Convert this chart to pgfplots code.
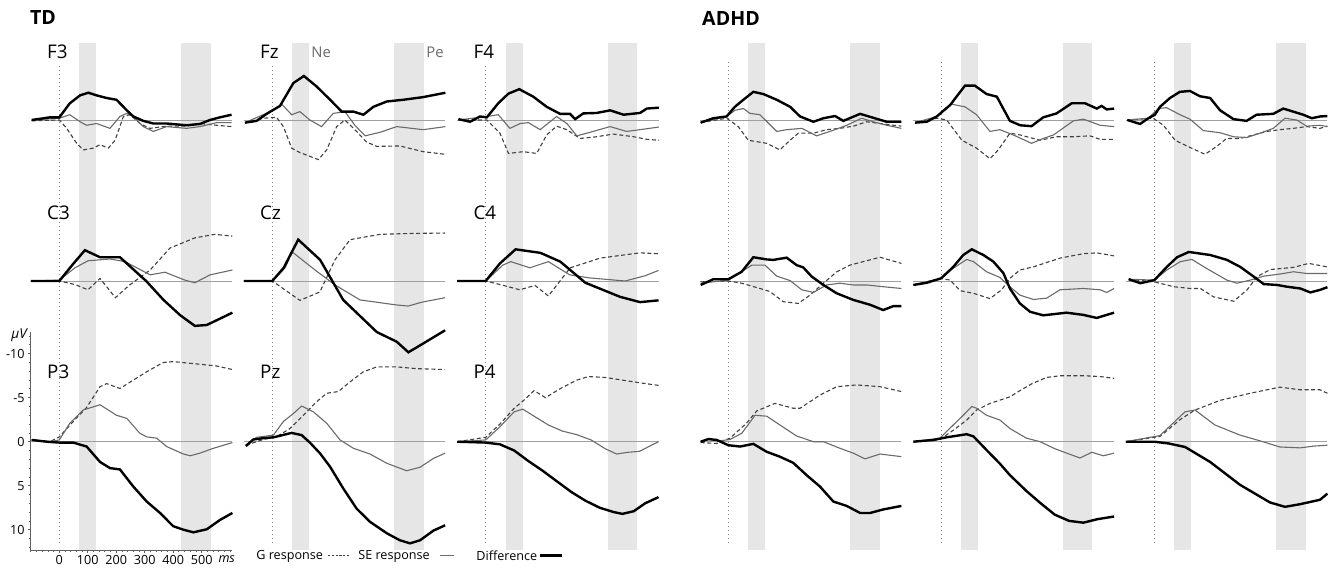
\documentclass[border=0pt]{standalone}
\usepackage{fontspec}
\setmainfont{Open Sans}
\usepackage{pgfplots}
\pgfplotsset{compat=1.18}
\definecolor{bandc}{HTML}{E6E6E6}
\definecolor{gcol}{HTML}{404040}
\definecolor{secol}{HTML}{6A6A6A}
\definecolor{zcol}{HTML}{A0A0A0}
\definecolor{dotc}{HTML}{808080}
\definecolor{axc}{HTML}{606060}
\tikzset{
  gresp/.style={color=gcol, line width=0.55pt, dash pattern=on 2pt off 1.3pt},
  seresp/.style={color=secol, line width=0.55pt},
  diffr/.style={color=black, line width=1.2pt},
  zeroline/.style={color=zcol, line width=0.45pt},
  dotline/.style={color=dotc, line width=0.5pt, dash pattern=on 0.5pt off 1.5pt},
}
\pgfplotsset{
  panel/.style={scale only axis, width=100.78pt, xmin=-100, xmax=608, ymin=-8.7,
    y dir=reverse, hide axis, clip=false, anchor=north west, no markers},
  row12/.style={ymax=8, height=73.48pt},
  row3/.style={ymax=12.3, height=92.4pt},
}
\newcommand\panel[4]{%
\begin{axis}[panel,#1]
\draw[zeroline] (axis cs:-100,0) -- (axis cs:608,0);
\addplot[gresp] coordinates {#2};
\addplot[seresp] coordinates {#3};
\addplot[diffr] coordinates {#4};
\end{axis}}
\newcommand\bands[2]{%
\begin{axis}[scale only axis, width=100.78pt, height=253.5pt, xmin=-100, xmax=608,
  ymin=43, ymax=550, y dir=reverse, hide axis, clip=false, anchor=north west, at={(#1,-21.5pt)}]
\fill[bandc] (axis cs:70,43) rectangle (axis cs:130,550);
\fill[bandc] (axis cs:428,43) rectangle (axis cs:532,550);
\draw[dotline] (axis cs:0,#2) -- (axis cs:0,546);
\end{axis}}
\newcommand\lblfont{\fontsize{9.4}{10}\selectfont}
\newcommand\smfont{\fontsize{6.3}{7}\selectfont}
\begin{document}
\begin{tikzpicture}
\useasboundingbox (0,0) rectangle (666.5pt,-285.5pt);
% background bands and dotted onset lines
\bands{15.42pt}{66}
\bands{121.92pt}{66}
\bands{228.62pt}{66}
\bands{349.92pt}{62}
\bands{456.27pt}{62}
\bands{562.92pt}{62}
% group titles
\node[font=\fontsize{9.8}{11}\selectfont\bfseries] at (21.5pt,-9pt) {TD};
\node[font=\fontsize{9.8}{11}\selectfont\bfseries] at (365.5pt,-9pt) {ADHD};
% electrode labels
\node[anchor=west,inner sep=0,font=\lblfont] at (23.4pt,-26pt) {F3};
\node[anchor=west,inner sep=0,font=\lblfont] at (129.9pt,-26pt) {Fz};
\node[anchor=west,inner sep=0,font=\lblfont] at (236.6pt,-26pt) {F4};
\node[anchor=west,inner sep=0,font=\lblfont] at (23.4pt,-106.5pt) {C3};
\node[anchor=west,inner sep=0,font=\lblfont] at (129.9pt,-106.5pt) {Cz};
\node[anchor=west,inner sep=0,font=\lblfont] at (236.6pt,-106.5pt) {C4};
\node[anchor=west,inner sep=0,font=\lblfont] at (23.4pt,-185.8pt) {P3};
\node[anchor=west,inner sep=0,font=\lblfont] at (129.9pt,-185.8pt) {Pz};
\node[anchor=west,inner sep=0,font=\lblfont] at (236.6pt,-185.8pt) {P4};
\node[anchor=west,inner sep=0,font=\fontsize{7.4}{8}\selectfont,text=secol] at (155.5pt,-26pt) {Ne};
\node[anchor=west,inner sep=0,font=\fontsize{7.4}{8}\selectfont,text=secol] at (213pt,-26pt) {Pe};
% P3 frame axis (scale)
\begin{axis}[scale only axis, width=100.78pt, height=109.12pt, anchor=north west, at={(15.42pt,-165.85pt)},
  xmin=-100, xmax=608, ymin=-12.3, ymax=12.5, clip=false,
  axis x line=bottom, axis y line=left, axis line style={-, draw=axc, line width=0.4pt},
  xtick={0,100,200,300,400,500}, xticklabels={0,100,200,300,400,500},
  minor xtick={-100,-80,...,600},
  ytick={-10,-5,0,5,10}, yticklabels={10,5,0,-5,-10},
  minor ytick={-12,-11,...,12},
  tick align=outside, major tick length=1.4pt, minor tick length=0.8pt,
  every tick/.style={draw=axc, line width=0.4pt},
  tick label style={font=\smfont, text=black},
  xticklabel style={inner sep=1pt},
  yticklabel style={inner sep=1.5pt}]
\node[anchor=east, inner sep=1.2pt, font=\fontsize{6.8}{7}\selectfont] at (axis cs:-100,12.1) {\textit{μV}};
\node[anchor=north, inner sep=1pt, yshift=-1.4pt, font=\smfont] at (axis cs:588,-12.3) {\textit{ms}};
\end{axis}
% ---------------- TD row 1 ----------------
\panel{at={(15.42pt,-21.72pt)},row12}
{(-97,0.1)(0,0)(26,0.95)(61,2.65)(84,3.4)(119,3.2)(143,2.8)(172,3.2)(196,2.3)(225,-0.4)(248,-0.6)(283,0.4)(318,0.95)(377,0.7)(447,0.7)(494,0.4)(553,0.6)(605,0.75)}
{(-97,0)(0,-0.2)(37,-0.6)(73,0.2)(96,0.6)(131,0.4)(178,0.95)(213,-0.4)(237,-0.75)(260,-0.4)(295,0.75)(330,1.3)(377,0.75)(447,0.95)(494,0.75)(553,0.3)(605,0.3)}
{(-97,0)(-33,-0.3)(0,-0.3)(37,-1.9)(73,-2.8)(102,-3.1)(131,-2.8)(166,-2.5)(201,-2.3)(237,-1.1)(260,-0.4)(295,0.1)(330,0.4)(377,0.4)(447,0.6)(494,0.45)(529,0)(564,-0.3)(605,-0.6)}
\panel{at={(121.92pt,-21.72pt)},row12}
{(-96,0.3)(-32,-0.2)(15,-0.3)(39,0.75)(68,3.2)(97,3.7)(162,4.5)(191,3.4)(226,0.75)(255,0)(290,1.1)(331,2.5)(367,3.0)(448,2.95)(530,3.6)(608,3.9)}
{(-96,0.3)(-32,-0.6)(4,-1.1)(33,-1.8)(68,-0.6)(97,-0.95)(132,0)(173,0.75)(214,-0.75)(255,-0.95)(290,0.6)(326,1.8)(378,1.4)(437,0.75)(530,1.1)(608,0.75)}
{(-96,0.3)(-55,0.1)(-20,-0.7)(27,-1.6)(74,-4.2)(111,-5.0)(156,-3.8)(203,-2.3)(244,-0.95)(285,-0.95)(320,-0.6)(355,-1.5)(402,-2.1)(460,-2.3)(530,-2.6)(608,-3.1)}
\panel{at={(228.62pt,-21.72pt)},row12}
{(-96,0)(4,0)(50,1.5)(80,3.8)(132,3.6)(179,3.8)(214,1.7)(249,0.7)(285,1.1)(331,2.1)(390,1.9)(448,1.6)(519,1.9)(566,2.2)(608,2.3)}
{(-96,0)(4,-0.4)(44,-0.6)(85,0.95)(121,0.4)(150,0.3)(191,1.1)(249,-0.4)(285,0.4)(320,1.8)(355,1.5)(437,0.75)(495,1.3)(542,1.1)(608,0.8)}
{(-96,-0.1)(-55,0.2)(-20,-0.4)(4,-0.3)(44,-1.9)(80,-3.0)(118,-3.5)(167,-2.65)(214,-1.5)(261,-0.7)(296,-0.7)(314,-0.1)(343,-0.75)(390,-0.8)(437,-1.1)(484,-0.6)(542,-0.8)(566,-1.3)(608,-1.4)}
% ---------------- TD row 2 ----------------
\panel{at={(15.42pt,-102.22pt)},row12}
{(-100,0)(0,0)(55,0.4)(101,1.0)(143,-0.3)(197,1.9)(245,0.5)(319,-1.25)(389,-3.75)(476,-4.9)(546,-5.3)(608,-5.1)}
{(-100,0)(0,-0.1)(55,-1.5)(101,-2.3)(178,-2.5)(231,-2.2)(319,-0.7)(371,-1.0)(441,-0.1)(476,0.2)(530,-0.7)(608,-1.25)}
{(-100,0)(0,0)(45,-1.8)(90,-3.5)(143,-2.7)(213,-2.7)(305,0)(366,2.15)(425,3.9)(476,5.1)(518,5.0)(608,3.6)}
\panel{at={(121.92pt,-102.22pt)},row12}
{(-100,0)(0,0)(44,1.0)(97,2.2)(167,1.25)(220,-2.4)(273,-4.7)(378,-5.3)(480,-5.4)(607,-5.45)}
{(-100,0)(0,0)(45,-1.5)(70,-3.3)(150,-1.25)(220,0.45)(308,2.15)(431,2.7)(477,2.85)(526,2.4)(607,1.9)}
{(-100,0)(0,0)(40,-1.5)(91,-4.7)(168,-2.4)(249,2.15)(367,5.8)(437,6.9)(478,8.1)(530,7.1)(607,5.6)}
\panel{at={(228.62pt,-102.22pt)},row12}
{(-100,0)(0,0)(50,0.4)(120,1.0)(173,0.5)(220,1.7)(297,-1.5)(402,-2.6)(542,-3.2)(607,-3.1)}
{(-100,0)(0,0)(60,-1.8)(88,-2.2)(155,-1.5)(220,-2.2)(295,-0.7)(365,-0.35)(490,0)(560,-0.6)(607,-1.2)}
{(-100,0)(0,0)(50,-2.0)(105,-3.6)(192,-3.2)(262,-2.2)(350,0.2)(472,1.8)(542,2.4)(607,2.2)}
% ---------------- TD row 3 ----------------
\panel{at={(15.42pt,-182.57pt)},row3}
{(-97,-0.2)(-33,0)(0,-0.55)(49,-2.3)(96,-3.9)(143,-6.25)(166,-6.6)(213,-6.05)(260,-7.0)(307,-7.95)(365,-9.0)(400,-9.1)(494,-8.8)(553,-8.6)(608,-8.2)}
{(-97,-0.2)(-33,0)(0,-0.2)(37,-2.1)(84,-3.6)(143,-4.2)(201,-3.0)(237,-2.65)(283,-0.95)(307,-0.55)(342,-0.4)(377,0.55)(436,1.4)(460,1.6)(494,1.3)(541,0.75)(608,0.1)}
{(-97,-0.2)(-44,0)(0,0.1)(49,0.1)(96,0.55)(143,2.3)(178,3.0)(213,3.15)(260,5.1)(307,6.8)(354,8.1)(400,9.6)(436,10.0)(471,10.3)(518,9.95)(564,8.9)(608,8.1)}
\panel{at={(121.92pt,-182.57pt)},row3}
{(-93,0.4)(-32,-0.25)(15,-0.55)(62,-1.5)(109,-3.0)(156,-4.55)(191,-5.5)(232,-5.7)(273,-6.8)(320,-7.95)(367,-8.5)(437,-8.5)(507,-8.3)(607,-8.2)}
{(-93,0.4)(-55,-0.5)(4,-0.75)(39,-2.3)(74,-3.2)(103,-4.05)(144,-3.4)(191,-2.1)(238,-0.2)(285,0.75)(343,1.4)(402,2.45)(472,3.3)(519,2.9)(566,1.9)(607,1.3)}
{(-93,0.5)(-67,-0.25)(-32,-0.4)(4,-0.5)(68,-1.0)(103,-0.75)(132,0.1)(167,1.3)(203,2.85)(249,5.3)(296,7.6)(343,9.1)(402,10.4)(448,11.2)(484,11.55)(519,11.2)(566,10.1)(607,9.5)}
\panel{at={(228.62pt,-182.57pt)},row3}
{(-100,0)(0,-0.5)(50,-2.0)(100,-3.8)(130,-4.6)(170,-5.8)(210,-5.0)(260,-6.0)(320,-7.0)(360,-7.4)(420,-7.3)(480,-7.0)(540,-6.7)(607,-6.4)}
{(-100,0)(0,-0.2)(50,-1.7)(100,-3.4)(130,-3.7)(170,-2.9)(220,-1.9)(270,-1.2)(320,-0.8)(370,-0.2)(420,0.8)(460,1.4)(500,1.2)(540,1.1)(570,0.6)(607,0)}
{(-100,0)(0,0.1)(50,0.3)(100,1.0)(150,2.2)(200,3.3)(250,4.5)(300,5.7)(350,6.7)(400,7.5)(450,8.0)(480,8.2)(520,7.9)(560,7.0)(607,6.3)}
% ---------------- ADHD row 1 ----------------
\panel{at={(349.92pt,-21.72pt)},row12}
{(-97,0.3)(-6,-0.2)(35,0.75)(70,2.3)(135,2.65)(181,3.4)(217,2.3)(246,1.5)(299,1.5)(345,1.1)(392,0.95)(439,0.7)(486,0.2)(533,0.4)(580,0.6)(608,0.7)}
{(-97,0.3)(-6,-0.4)(23,-1.1)(53,-1.3)(76,-0.75)(111,-0.6)(170,1.3)(205,1.1)(258,0.95)(310,1.8)(357,1.3)(416,0.6)(468,-0.2)(509,0.2)(556,0.6)(608,0.95)}
{(-97,0.3)(-53,-0.2)(-6,-0.4)(23,-1.5)(53,-2.3)(88,-3.2)(123,-2.95)(170,-2.3)(217,-1.5)(252,-0.4)(299,0.2)(334,-0.2)(375,-0.45)(404,0.1)(463,-0.7)(504,-0.3)(556,0.2)(608,0.2)}
\panel{at={(456.27pt,-21.72pt)},row12}
{(-91,0.3)(-15,-0.2)(20,0)(73,2.3)(125,3.2)(172,4.4)(201,3.4)(242,1.5)(278,1.7)(348,2.3)(406,1.9)(465,1.9)(523,1.8)(559,2.2)(608,2.2)}
{(-91,0.3)(-15,-0.4)(37,-1.8)(84,-1.5)(125,-0.6)(172,1.3)(207,1.1)(254,1.7)(318,2.65)(359,2.1)(395,1.7)(465,0.1)(500,-0.1)(559,0.6)(608,0.75)}
{(-91,0.3)(-50,0.2)(-15,-0.4)(32,-1.7)(84,-3.9)(119,-3.9)(160,-2.95)(196,-2.65)(242,0.1)(278,0.6)(318,0.7)(359,-0.3)(406,-0.75)(459,-1.9)(506,-1.9)(547,-1.3)(564,-1.6)(582,-1.2)(608,-1.3)}
\panel{at={(562.92pt,-21.72pt)},row12}
{(-95,0)(-4,-0.2)(32,0.6)(73,2.3)(114,2.95)(178,3.9)(219,3.0)(254,2.1)(301,2.1)(348,1.7)(395,1.3)(441,1.1)(488,0.95)(535,0.75)(582,0.95)(608,0.7)}
{(-95,0)(-21,-0.2)(14,-1.3)(43,-1.4)(90,-0.6)(125,-0.1)(172,1.2)(231,1.45)(278,1.9)(324,2.0)(371,1.5)(418,0.95)(459,-0.2)(500,0)(535,0.7)(582,0.6)(608,0.75)}
{(-95,0)(-50,0.45)(-21,-0.2)(2,-0.6)(20,-1.5)(55,-2.5)(90,-3.2)(125,-3.3)(160,-2.7)(196,-2.5)(231,-1.1)(278,-0.1)(324,0.1)(359,-0.6)(418,-0.7)(453,-1.3)(488,-0.95)(523,-0.6)(553,-0.2)(582,-0.4)(608,-0.45)}
% ---------------- ADHD row 2 ----------------
\panel{at={(349.92pt,-102.22pt)},row12}
{(-97,0.1)(0,0)(47,0.25)(111,0.85)(146,1.2)(193,2.35)(246,2.55)(287,1.6)(334,0.25)(381,-1.05)(427,-1.8)(486,-2.3)(533,-2.7)(608,-2.0)}
{(-97,0.25)(0,-0.1)(47,-1.05)(82,-1.8)(129,-1.8)(170,-0.55)(217,-0.05)(258,1.0)(299,1.3)(345,0.45)(392,0.25)(439,0.45)(486,0.45)(544,0.65)(608,0.85)}
{(-97,0.45)(-53,-0.2)(0,-0.2)(47,-1.05)(88,-2.7)(135,-2.45)(158,-2.4)(205,-2.65)(240,-1.8)(263,-1.55)(293,-0.5)(334,0.45)(381,1.4)(439,2.15)(498,2.7)(544,3.3)(580,2.85)(608,2.85)}
\panel{at={(456.27pt,-102.22pt)},row12}
{(-97,0.45)(0,-0.3)(32,-0.1)(67,1.1)(114,1.4)(172,2.0)(213,1.0)(242,-0.3)(277,-1.25)(324,-1.6)(418,-2.6)(500,-3.1)(547,-3.2)(608,-2.85)}
{(-97,0.45)(0,-0.3)(43,-1.45)(90,-2.45)(114,-2.2)(160,-1.05)(207,-0.4)(242,0.65)(277,1.6)(324,2.1)(371,1.95)(418,1.0)(500,0.85)(559,1.0)(582,1.3)(608,0.85)}
{(-97,0.45)(-50,0.2)(0,-0.3)(43,-1.6)(78,-2.95)(108,-3.6)(149,-2.95)(184,-2.2)(219,-0.9)(242,0.85)(277,2.55)(313,3.5)(359,3.9)(441,3.6)(500,3.85)(547,4.2)(582,3.85)(608,3.6)}
\panel{at={(562.92pt,-102.22pt)},row12}
{(-90,-0.2)(0,0.1)(68,0.65)(126,0.85)(162,0.85)(208,1.8)(279,2.3)(326,1.0)(361,-0.5)(407,-1.3)(489,-1.55)(542,-2.0)(608,-1.6)}
{(-90,-0.2)(0,-0.1)(44,-1.25)(91,-2.2)(132,-2.45)(185,-1.4)(255,-0.1)(290,0.25)(337,-0.1)(384,-0.55)(443,-0.8)(489,-1.05)(536,-0.85)(608,-0.85)}
{(-90,-0.2)(-49,0.25)(0,-0.1)(44,-1.6)(80,-2.7)(121,-3.3)(197,-2.95)(255,-2.4)(302,-1.6)(349,-0.5)(384,0.35)(431,0.45)(466,0.65)(513,0.85)(548,1.3)(583,1.0)(608,0.7)}
% ---------------- ADHD row 3 ----------------
\panel{at={(349.92pt,-182.57pt)},row3}
{(-97,0.1)(-41,0.2)(6,-0.4)(64,-2.1)(100,-3.5)(164,-4.35)(228,-3.8)(252,-3.8)(322,-5.3)(381,-6.25)(451,-6.45)(533,-6.25)(608,-5.7)}
{(-97,0)(-70,-0.25)(-29,-0.1)(6,-0.25)(47,-0.95)(94,-3.0)(135,-2.9)(181,-1.9)(240,-0.65)(299,0)(334,0)(392,0.75)(439,1.3)(480,1.95)(533,1.4)(608,1.7)}
{(-97,0)(-70,-0.3)(-41,-0.2)(0,0.4)(41,0.55)(88,0.25)(135,1.15)(181,1.7)(228,2.4)(275,3.8)(322,5.1)(369,6.8)(416,7.3)(463,8.1)(498,8.1)(544,7.7)(608,7.3)}
\panel{at={(456.27pt,-182.57pt)},row3}
{(-97,0)(-4,-0.25)(43,-1.3)(90,-2.45)(125,-3.6)(172,-4.35)(242,-5.1)(277,-5.8)(320,-6.6)(370,-7.3)(420,-7.5)(500,-7.5)(560,-7.4)(608,-7.2)}
{(-97,0)(-4,-0.4)(43,-1.9)(78,-3.0)(108,-4.0)(125,-3.8)(160,-3.0)(207,-2.46)(242,-1.5)(300,-0.4)(348,0)(400,0.8)(450,1.4)(488,1.85)(530,1.2)(570,1.6)(608,1.3)}
{(-97,0)(-27,-0.2)(20,-0.5)(90,-0.85)(114,-0.6)(160,0.95)(207,2.5)(242,3.8)(300,5.6)(350,7.0)(400,8.3)(450,9.0)(500,9.2)(550,8.8)(608,8.5)}
\panel{at={(562.92pt,-182.57pt)},row3}
{(-100,0)(20,-0.6)(90,-2.5)(143,-3.6)(231,-4.7)(336,-5.5)(441,-6.2)(512,-5.9)(582,-5.9)(608,-5.5)}
{(-100,0)(20,-0.7)(108,-3.4)(143,-3.6)(213,-1.9)(301,-0.75)(371,-0.1)(441,0.6)(512,0.7)(560,0.5)(608,0.4)}
{(-100,0)(0,0)(50,0.2)(108,0.6)(196,2.3)(301,4.9)(406,6.9)(459,7.4)(512,7.1)(582,6.6)(608,5.9)}
% ---------------- legend ----------------
\node[anchor=west,inner sep=0,font=\smfont] at (128pt,-278pt) {G response};
\draw[gcol, line width=0.5pt, dash pattern=on 1.1pt off 0.8pt] (164pt,-277.7pt) -- (175pt,-277.7pt);
\node[anchor=west,inner sep=0,font=\smfont] at (179pt,-278pt) {SE response};
\draw[seresp] (220pt,-277.7pt) -- (227pt,-277.7pt);
\node[anchor=west,inner sep=0,font=\smfont] at (238pt,-278pt) {Difference};
\draw[black, line width=1.5pt] (270pt,-277.7pt) -- (281pt,-277.7pt);
\end{tikzpicture}
\end{document}
